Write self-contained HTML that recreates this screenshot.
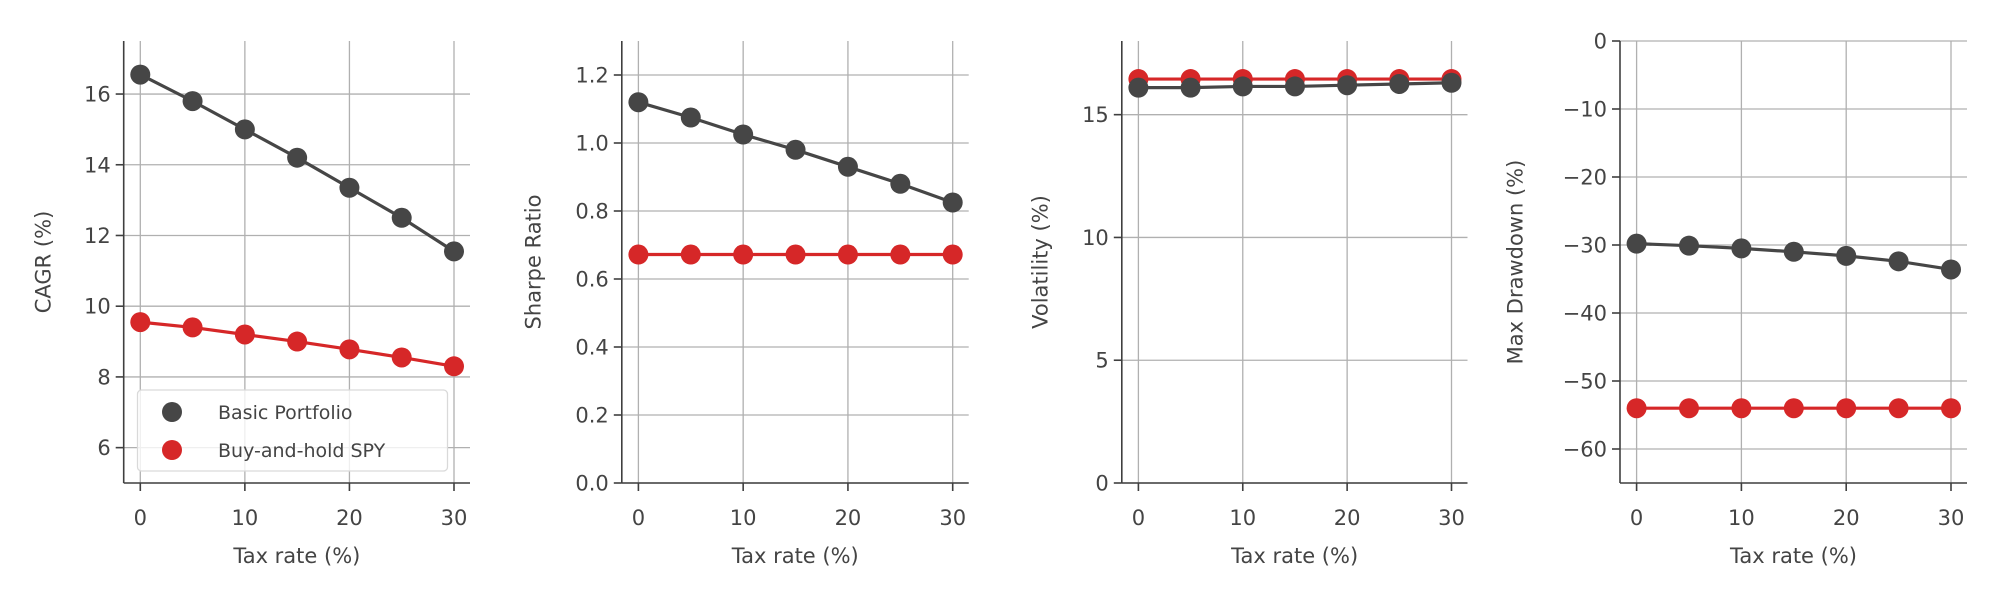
<!DOCTYPE html>
<html><head><meta charset="utf-8">
<style>
html,body{margin:0;padding:0;background:#fff;}
svg{display:block;font-family:"DejaVu Sans","Liberation Sans",sans-serif;}
</style></head>
<body>
<svg id="chart" width="2000" height="600" viewBox="0 0 2000 600" xmlns="http://www.w3.org/2000/svg"></svg>
<script>
const taxRates = [0, 5, 10, 15, 20, 25, 30];
const xTicks = [0, 10, 20, 30];
const cagrBasic = [16.55, 15.8, 15.0, 14.2, 13.35, 12.5, 11.55];
const cagrSpy = [9.55, 9.4, 9.2, 9.0, 8.78, 8.55, 8.3];
const sharpeBasic = [1.12, 1.075, 1.025, 0.98, 0.93, 0.88, 0.825];
const sharpeSpy = [0.672, 0.672, 0.672, 0.672, 0.672, 0.672, 0.672];
const volBasic = [16.1, 16.1, 16.15, 16.15, 16.2, 16.25, 16.3];
const volSpy = [16.45, 16.45, 16.45, 16.45, 16.45, 16.45, 16.45];
const mddBasic = [-29.8, -30.1, -30.5, -31.0, -31.6, -32.4, -33.6];
const mddSpy = [-54, -54, -54, -54, -54, -54, -54];
const cagrTicks = [6, 8, 10, 12, 14, 16];
const sharpeTicks = [0.0, 0.2, 0.4, 0.6, 0.8, 1.0, 1.2];
const volTicks = [0, 5, 10, 15];
const mddTicks = [-60, -50, -40, -30, -20, -10, 0];
const seriesNames = ["Basic Portfolio", "Buy-and-hold SPY"];

const NS = "http://www.w3.org/2000/svg";
const svg = document.getElementById("chart");
const DARK = "#464646", RED = "#d62728", GRID = "#b0b0b0", AX = "#3f3f3f", TXT = "#444";
function mk(tag, attrs, parent) {
  const e = document.createElementNS(NS, tag);
  for (const k in attrs) e.setAttribute(k, attrs[k]);
  (parent || svg).appendChild(e);
  return e;
}
const TOP = 41, BOT = 483;
const panels = [
  {id:"cagr", left:123.7, right:470, ylim:[5,17.5], ticks:cagrTicks, fmt:v=>String(v), label:"CAGR (%)", lx:43, basic:cagrBasic, spy:cagrSpy, legend:true},
  {id:"sharpe", left:621.8, right:968.7, ylim:[0,1.3], ticks:sharpeTicks, fmt:v=>v.toFixed(1), label:"Sharpe Ratio", lx:533, basic:sharpeBasic, spy:sharpeSpy},
  {id:"volatility", left:1121.8, right:1467.5, ylim:[0,18], ticks:volTicks, fmt:v=>String(v), label:"Volatility (%)", lx:1040, basic:volBasic, spy:volSpy},
  {id:"drawdown", left:1620, right:1967, ylim:[-65,0], ticks:mddTicks, fmt:v=>(v<0?"\u2212"+(-v):String(v)), label:"Max Drawdown (%)", lx:1515, basic:mddBasic, spy:mddSpy}
];
panels.forEach(p => {
  const g = mk("g", {});
  
  
  const x0 = p.left + 16.6, x30 = p.right - 16.0;
  const xs = v => x0 + (v - 0) / 30 * (x30 - x0);
  const ys = v => BOT - (v - p.ylim[0]) / (p.ylim[1] - p.ylim[0]) * (BOT - TOP);
  // grid
  xTicks.forEach(t => {
    const l = mk("line", {x1:xs(t), x2:xs(t), y1:TOP, y2:BOT, stroke:GRID, "stroke-width":1.3}, g);
    
    
  });
  p.ticks.forEach(t => {
    const l = mk("line", {x1:p.left, x2:p.right, y1:ys(t), y2:ys(t), stroke:GRID, "stroke-width":1.3}, g);
    
    
  });
  // spines
  const sl = mk("line", {x1:p.left, x2:p.left, y1:TOP, y2:BOT, stroke:AX, "stroke-width":1.6}, g);
  
  
  const sb = mk("line", {x1:p.left, x2:p.right, y1:BOT, y2:BOT, stroke:AX, "stroke-width":1.6}, g);
  
  
  // ticks
  xTicks.forEach(t => {
    mk("line", {x1:xs(t), x2:xs(t), y1:BOT, y2:BOT+8, stroke:AX, "stroke-width":1.6}, g);
    const tx = mk("text", {x:xs(t), y:525, "text-anchor":"middle", "font-size":21, fill:TXT}, g);
    tx.textContent = t;
    
    
  });
  p.ticks.forEach(t => {
    mk("line", {x1:p.left-8, x2:p.left, y1:ys(t), y2:ys(t), stroke:AX, "stroke-width":1.6}, g);
    const tx = mk("text", {x:p.left-13, y:ys(t)+7.5, "text-anchor":"end", "font-size":21, fill:TXT}, g);
    tx.textContent = p.fmt(t);
    
    
  });
  const xl = mk("text", {x:(p.left+p.right)/2, y:563, "text-anchor":"middle", "font-size":21, fill:TXT}, g);
  xl.textContent = "Tax rate (%)";
  
  
  const cy = (TOP+BOT)/2;
  const yl = mk("text", {x:p.lx, y:cy, "text-anchor":"middle", "font-size":21, fill:TXT, transform:`rotate(-90 ${p.lx} ${cy})`, dy:"0.35em"}, g);
  yl.textContent = p.label;
  
  
  // series
  [[p.spy, RED, "spy"], [p.basic, DARK, "basic"]].forEach(([vals, col, nm]) => {
    const pts = taxRates.map((t,i) => xs(t)+","+ys(vals[i])).join(" ");
    const pl = mk("polyline", {points:pts, fill:"none", stroke:col, "stroke-width":3.2}, g);
    
    
    taxRates.forEach((t,i) => {
      const c = mk("circle", {cx:xs(t), cy:ys(vals[i]), r:10, fill:col}, g);
      
      
    });
  });
  if (p.legend) {
    const lg = mk("g", {}, g);
    
    
    mk("rect", {x:137.5, y:390, width:310, height:81, rx:4, fill:"#fff", "fill-opacity":0.8, stroke:"#d9d9d9", "stroke-width":1.3}, lg);
    [[DARK, 412], [RED, 450]].forEach(([col, yy], i) => {
      const e = mk("g", {}, lg);
      
      
      mk("circle", {cx:172, cy:yy, r:10, fill:col}, e);
      const tx = mk("text", {x:218, y:yy+7, "font-size":19, fill:TXT}, e);
      tx.textContent = seriesNames[i];
    });
  }
});
</script>
</body></html>
